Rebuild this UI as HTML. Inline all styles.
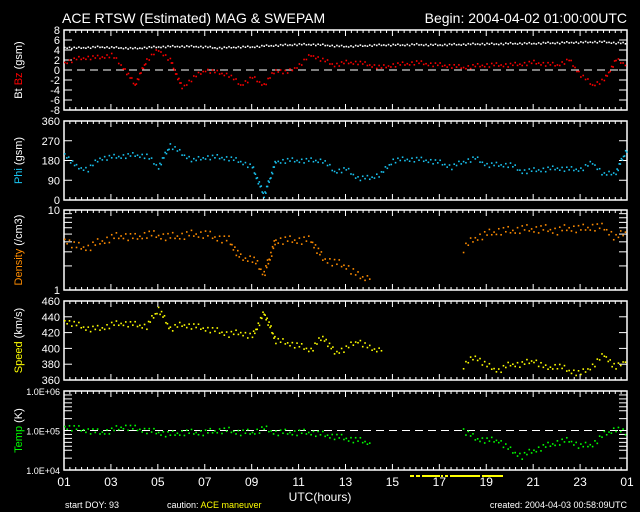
<!DOCTYPE html>
<html><head><meta charset="utf-8"><style>
html,body{margin:0;padding:0;background:#000;}
svg{display:block;}
text{font-family:"Liberation Sans",sans-serif;fill:#fff;}
</style></head><body>
<svg id="c" width="640" height="512" viewBox="0 0 640 512">
<text x="62" y="23" font-size="14">ACE RTSW (Estimated) MAG &amp; SWEPAM</text>
<text x="627" y="23" font-size="14" text-anchor="end">Begin: 2004-04-02 01:00:00UTC</text>
<text x="320" y="501" font-size="12" text-anchor="middle">UTC(hours)</text>
<text x="65" y="508" font-size="9">start DOY:  93</text>
<text x="167" y="508" font-size="9">caution: <tspan fill="#ff0">ACE maneuver</tspan></text>
<text x="627" y="508" font-size="9" text-anchor="end">created: 2004-04-03 00:58:09UTC</text>
<g id="g"></g>
</svg>
<script>
const hours=[1,1.5,2,2.5,3,3.5,4,4.5,5,5.5,6,6.5,7,7.5,8,8.5,9,9.5,10,10.5,11,11.5,12,12.5,13,13.5,14,14.5,15,15.5,16,16.5,17,17.5,18,18.5,19,19.5,20,20.5,21,21.5,22,22.5,23,23.5,24,24.5,25];
const btValues=[4.5,4.4,4.5,4.6,4.5,4.4,4.3,4.5,4.6,4.7,4.7,4.7,4.6,4.4,4.5,4.6,4.6,4.8,4.9,5.0,5.1,5.1,5.0,4.8,4.7,4.8,4.9,5.0,5.0,5.0,5.1,5.0,5.0,5.1,5.1,5.2,5.2,5.2,5.3,5.3,5.3,5.4,5.4,5.5,5.5,5.6,5.6,5.4,5.3];
const bzValues=[1.5,2.2,2.5,2.5,3,0.5,-3,2,4,2,-3.5,-1.5,0,-0.5,-1,-3,-1.5,-3,0,-0.5,1,3,2,1,1.5,1.5,1,0.5,1,1.2,1.5,1.2,1,0.8,0.5,0.8,1,1,1,1.2,1.5,1.2,1,2,-1,-3,-2,2,1];
const phiValues=[210,150,140,190,195,200,205,200,150,250,210,180,195,195,190,175,150,20,175,180,180,180,180,130,140,100,100,120,180,185,185,180,170,150,175,190,160,160,160,130,135,140,145,140,140,170,115,125,240];
const densityValues=[4.3,3.5,3.4,4,4.5,4.8,4.5,5,4.8,4.6,4.8,5,5,4.5,4.2,2.5,2.5,1.6,4.2,4.2,4.2,4.2,2.5,2.2,2.0,1.5,1.4,null,null,null,null,null,null,null,3.3,4.5,5,5.5,5.5,5.8,5.8,5.8,5.5,6,5.8,6.2,6.0,4.5,5.5];
const speedValues=[435,430,425,425,430,432,430,428,450,425,430,428,425,422,418,420,415,445,410,407,403,398,415,395,400,410,400,398,null,null,null,null,null,null,378,390,378,372,380,380,385,375,378,372,368,378,392,375,388];
const tempLogValues=[5.1,5.05,5.0,4.95,5.0,5.1,5.05,5.0,4.95,4.9,4.95,4.95,4.95,5.0,5.0,4.95,4.95,5.05,4.95,4.95,4.95,4.95,4.9,4.85,4.8,4.75,4.7,null,null,null,null,null,null,null,5.0,4.8,4.75,4.75,4.5,4.35,4.5,4.6,4.7,4.75,4.6,4.65,4.9,5.05,4.9];
const xTickLabels=["01","03","05","07","09","11","13","15","17","19","21","23","01"];
const NS="http://www.w3.org/2000/svg";
const g=document.getElementById('g');
const L=64,R=627;
const jitter=[0,1.5,-1,2,-1.5,0.5,-2,1];
function X(h){return L+(h-1)*(R-L)/24;}
function el(t,a){const e=document.createElementNS(NS,t);for(const k in a)e.setAttribute(k,a[k]);g.appendChild(e);return e;}
function panel(name,top,bot,ymin,ymax,ticks,labels,dash,ylabelParts,log){
  const f=v=>{const a=log?Math.log10(v):v,b=log?Math.log10(ymin):ymin,c=log?Math.log10(ymax):ymax;return bot-(a-b)/(c-b)*(bot-top);};
  const r=el('rect',{x:L,y:top,width:R-L,height:bot-top,fill:'none',stroke:'#fff','stroke-width':1.5});
  
  
  for(let h=1;h<=25;h+=0.25){const big=(h-1)%2===0;const len=big?6:3;
    el('line',{x1:X(h),x2:X(h),y1:bot,y2:bot-len,stroke:'#fff'});el('line',{x1:X(h),x2:X(h),y1:top,y2:top+len,stroke:'#fff'});}
  ticks.forEach((v,i)=>{const y=f(v);
    el('line',{x1:L,x2:L+8,y1:y,y2:y,stroke:'#fff'});el('line',{x1:R,x2:R-8,y1:y,y2:y,stroke:'#fff'});
    if(labels[i]!==''){const t=el('text',{x:L-4,y:y+4,'font-size':labels[i].length>4?9:11,'text-anchor':'end'});t.textContent=labels[i];
    
    }});
  if(dash!==null){el('line',{x1:L,x2:R,y1:f(dash),y2:f(dash),stroke:'#fff','stroke-dasharray':'8,5'});}
  const cy=(top+bot)/2;const t=el('text',{x:0,y:0,'font-size':11,'text-anchor':'middle',transform:`translate(22,${cy}) rotate(-90)`});
  
  
  ylabelParts.forEach(p=>{const s=document.createElementNS(NS,'tspan');s.setAttribute('fill',p[1]);s.textContent=p[0];t.appendChild(s);});
  return f;
}
function dot(grp,x,y){const d=document.createElementNS(NS,'rect');d.setAttribute('x',x);d.setAttribute('y',y);d.setAttribute('width',1.6);d.setAttribute('height',1.6);grp.appendChild(d);}
function series(name,vals,f,color,jscale){
  const grp=el('g',{fill:color});
  
  
  let c=0;
  for(let i=0;i<hours.length-1;i++){const a=vals[i],b=vals[i+1];if(a===null||b===null){if(a!==null)dot(grp,X(hours[i]),f(a));continue;}
    const x1=X(hours[i]),x2=X(hours[i+1]),y1=f(a),y2=f(b);
    const n=Math.max(5,Math.ceil(Math.abs(y2-y1)/2.5));
    for(let k=0;k<n;k++){const t=k/n;dot(grp,x1+(x2-x1)*t,y1+(y2-y1)*t-0.8+jitter[c++%jitter.length]*jscale);}}
}
const f1=panel('mag-panel',30,110,-8,8,[8,6,4,2,0,-2,-4,-6,-8],['8','6','4','2','0','-2','-4','-6','-8'],0,[['Bt ','#fff'],['Bz','#f00'],['  (gsm)','#fff']]);
series('bt-series',btValues,f1,'#fff',0.4);series('bz-series',bzValues,f1,'#f00',1);
const f2=panel('phi-panel',121,200,0,360,[0,90,180,270,360],['0','90','180','270','360'],null,[['Phi','#19c3f0'],['  (gsm)','#fff']]);
series('phi-series',phiValues,f2,'#19c3f0',1.2);
const f3=panel('density-panel',210,290,1,10,[1,2,3,4,5,6,7,8,9,10],['1','','','','','','','','','10'],null,[['Density','#ff8c00'],['  (/cm3)','#fff']],true);
series('density-series',densityValues,f3,'#ff8c00',2);
const f4=panel('speed-panel',301,380,360,460,[360,380,400,420,440,460],['360','380','400','420','440','460'],null,[['Speed','#ff0'],['  (km/s)','#fff']]);
series('speed-series',speedValues,f4,'#ff0',1.5);
const f5=panel('temp-panel',391,470,4,6,[4,4.3,4.5,4.6,4.7,4.8,4.9,5,5.3,5.5,5.6,5.7,5.8,5.9,6],['1.0E+04','','','','','','','1.0E+05','','','','','','','1.0E+06'],5,[['Temp','#0f0'],['  (K)','#fff']]);
series('temp-series',tempLogValues,f5,'#0f0',1.5);
xTickLabels.forEach((s,i)=>{const t=el('text',{x:X(1+2*i),y:486,'font-size':12,'text-anchor':'middle'});t.textContent=s;
  
  });
const cb=el('g',{fill:'#ff0'});


[[410,4],[416,4],[422,18],[441,2],[445,3],[450,30],[482,21]].forEach(s=>{const r=document.createElementNS(NS,'rect');r.setAttribute('x',s[0]);r.setAttribute('y',475);r.setAttribute('width',s[1]);r.setAttribute('height',2);cb.appendChild(r);});
</script>
</body></html>
